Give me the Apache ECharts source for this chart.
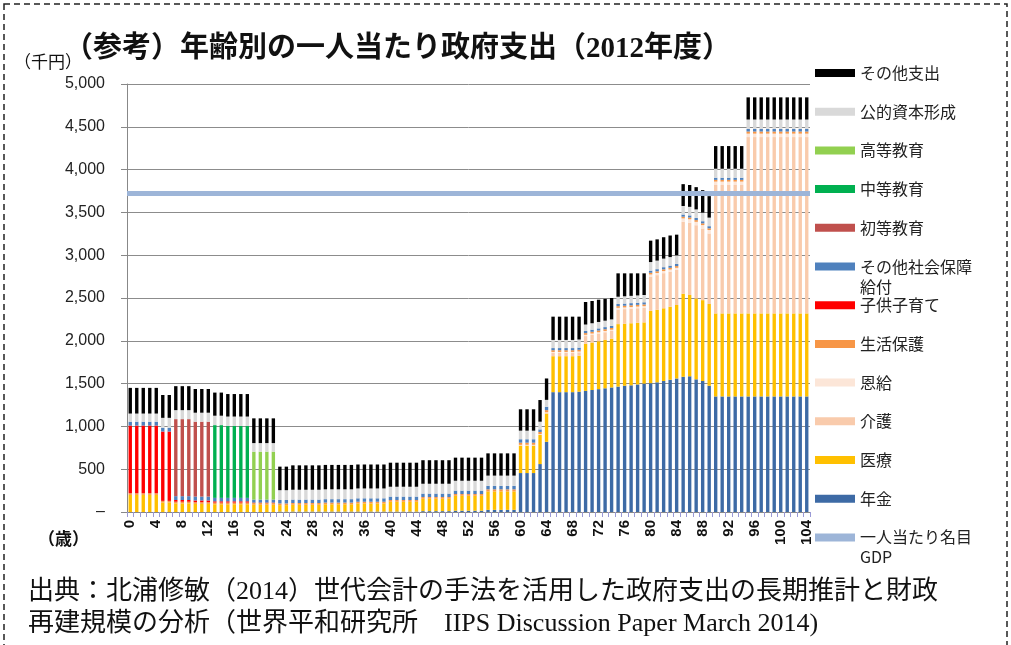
<!DOCTYPE html>
<html>
<head>
<meta charset="utf-8">
<script src="https://cdn.jsdelivr.net/npm/echarts@6/dist/echarts.min.js"></script>
<style>
  html, body { margin: 0; padding: 0; background: #fff; }
  #chart { width: 1011px; height: 645px; }
</style>
</head>
<body>
<div id="chart"></div>
<script>
// 年齢 (x軸カテゴリ)
const ages = [
  '0','1','2','3','4','5','6','7','8','9',
  '10','11','12','13','14','15','16','17','18','19',
  '20','21','22','23','24','25','26','27','28','29',
  '30','31','32','33','34','35','36','37','38','39',
  '40','41','42','43','44','45','46','47','48','49',
  '50','51','52','53','54','55','56','57','58','59',
  '60','61','62','63','64','65','66','67','68','69',
  '70','71','72','73','74','75','76','77','78','79',
  '80','81','82','83','84','85','86','87','88','89',
  '90','91','92','93','94','95','96','97','98','99',
  '100','101','102','103','104'
]

// y軸目盛
const yTicks = [0, 500, 1000, 1500, 2000, 2500, 3000, 3500, 4000, 4500, 5000]

// 一人当たり名目GDP (千円)
const gdpPerCapita = 3720

// 各項目 (千円) 年齢0〜104
const pension = [
  0,0,0,0,0,0,0,0,0,0,
  0,0,0,0,0,0,0,0,0,0,
  0,0,0,5,5,5,5,5,5,5,
  5,5,5,5,5,5,5,5,5,5,
  5,5,5,5,5,10,10,10,10,10,
  15,15,15,15,15,25,25,25,25,25,
  455,455,455,560,820,1400,1400,1400,1400,1405,
  1415,1425,1435,1445,1455,1465,1475,1480,1490,1500,
  1505,1515,1530,1545,1560,1580,1585,1550,1530,1475,
  1350,1350,1350,1350,1350,1350,1350,1350,1350,1350,
  1350,1350,1350,1350,1350
]
const medical = [
  200,200,200,200,200,110,110,100,100,100,
  95,95,95,90,90,90,90,90,90,85,
  85,85,85,75,75,80,80,80,80,80,
  85,85,85,85,85,95,95,95,95,95,
  115,115,115,115,115,145,145,145,145,145,
  175,175,175,175,175,215,215,215,215,215,
  320,320,320,340,330,420,420,420,420,420,
  550,555,560,565,570,730,725,725,720,715,
  845,847,850,853,858,970,950,945,945,955,
  970,970,970,970,970,970,970,970,970,970,
  970,970,970,970,970
]
const care = [
  0,0,0,0,0,0,0,0,0,0,
  0,0,0,0,0,0,0,0,0,0,
  0,0,0,0,0,0,0,0,0,0,
  0,0,0,0,0,0,0,0,0,0,
  0,0,0,0,0,0,0,0,0,0,
  0,0,0,0,0,0,0,0,0,0,
  5,5,5,5,10,40,40,40,40,40,
  90,90,90,90,90,170,170,170,170,170,
  400,405,410,410,410,840,845,855,837,824,
  1500,1500,1500,1500,1500,2060,2060,2060,2060,2060,
  2060,2060,2060,2060,2060
]
const onkyu = [
  0,0,0,0,0,0,0,0,0,0,
  0,0,0,0,0,0,0,0,0,0,
  0,0,0,0,0,0,0,0,0,0,
  0,0,0,0,0,0,0,0,0,0,
  0,0,0,0,0,0,0,0,0,0,
  0,0,0,0,0,0,0,0,0,0,
  5,5,5,5,5,10,10,10,10,10,
  15,15,15,15,15,20,20,20,20,20,
  25,25,25,25,25,40,40,40,40,40,
  40,40,40,40,40,40,40,40,40,40,
  40,40,40,40,40
]
const welfare = [
  20,20,20,20,20,20,20,20,20,20,
  20,20,20,20,20,20,20,20,20,20,
  20,20,20,20,20,20,20,20,20,20,
  20,20,20,20,20,20,20,20,20,20,
  20,20,20,20,20,20,20,20,20,20,
  20,20,20,20,20,25,25,25,25,25,
  25,25,25,25,25,20,20,20,20,20,
  20,20,20,20,20,20,20,20,20,20,
  20,20,20,20,20,20,20,20,20,20,
  20,20,20,20,20,25,25,25,25,25,
  25,25,25,25,25
]
const childcare = [
  790,790,790,790,790,810,810,20,20,20,
  20,20,20,15,15,15,15,15,15,5,
  5,5,5,0,0,0,0,0,0,0,
  0,0,0,0,0,0,0,0,0,0,
  0,0,0,0,0,0,0,0,0,0,
  0,0,0,0,0,0,0,0,0,0,
  0,0,0,0,0,0,0,0,0,0,
  0,0,0,0,0,0,0,0,0,0,
  0,0,0,0,0,0,0,0,0,0,
  0,0,0,0,0,0,0,0,0,0,
  0,0,0,0,0
]
const otherSocial = [
  45,45,45,45,45,45,45,45,45,45,
  45,45,45,40,40,40,40,40,40,35,
  35,35,35,40,40,40,40,40,40,40,
  40,40,40,40,40,40,40,40,40,40,
  40,40,40,40,40,40,40,40,40,40,
  40,40,40,40,40,40,40,40,40,40,
  40,40,40,30,40,25,25,25,25,25,
  25,25,25,25,25,25,25,25,25,25,
  25,25,25,25,25,25,25,25,25,25,
  25,25,25,25,25,30,30,30,30,30,
  30,30,30,30,30
]
const primaryEdu = [
  0,0,0,0,0,0,0,900,900,900,
  875,875,875,0,0,0,0,0,0,0,
  0,0,0,0,0,0,0,0,0,0,
  0,0,0,0,0,0,0,0,0,0,
  0,0,0,0,0,0,0,0,0,0,
  0,0,0,0,0,0,0,0,0,0,
  0,0,0,0,0,0,0,0,0,0,
  0,0,0,0,0,0,0,0,0,0,
  0,0,0,0,0,0,0,0,0,0,
  0,0,0,0,0,0,0,0,0,0,
  0,0,0,0,0
]
const secondaryEdu = [
  0,0,0,0,0,0,0,0,0,0,
  0,0,0,850,850,840,840,840,840,0,
  0,0,0,0,0,0,0,0,0,0,
  0,0,0,0,0,0,0,0,0,0,
  0,0,0,0,0,0,0,0,0,0,
  0,0,0,0,0,0,0,0,0,0,
  0,0,0,0,0,0,0,0,0,0,
  0,0,0,0,0,0,0,0,0,0,
  0,0,0,0,0,0,0,0,0,0,
  0,0,0,0,0,0,0,0,0,0,
  0,0,0,0,0
]
const higherEdu = [
  0,0,0,0,0,0,0,0,0,0,
  0,0,0,0,0,0,0,0,0,560,
  560,560,560,0,0,0,0,0,0,0,
  0,0,0,0,0,0,0,0,0,0,
  0,0,0,0,0,0,0,0,0,0,
  0,0,0,0,0,0,0,0,0,0,
  0,0,0,0,0,0,0,0,0,0,
  0,0,0,0,0,0,0,0,0,0,
  0,0,0,0,0,0,0,0,0,0,
  0,0,0,0,0,0,0,0,0,0,
  0,0,0,0,0
]
const publicCapital = [
  95,95,95,95,95,115,115,105,105,105,
  105,105,105,110,110,110,110,110,110,100,
  100,100,100,115,115,115,115,115,115,115,
  115,115,115,115,115,115,115,115,115,115,
  115,115,115,115,115,115,115,115,115,115,
  115,115,115,115,115,120,120,120,120,120,
  100,100,100,90,80,95,95,95,95,95,
  75,75,75,75,75,85,85,85,85,85,
  100,100,100,100,100,100,100,100,100,100,
  105,105,105,105,105,110,110,110,110,110,
  110,110,110,110,110
]
const otherExpense = [
  300,300,300,300,300,267,267,280,280,280,
  277,277,277,270,270,263,263,263,263,289,
  289,289,289,275,275,285,285,285,285,285,
  285,285,285,285,285,280,280,280,280,280,
  281,281,281,281,281,275,275,275,275,275,
  270,270,270,270,270,260,260,260,260,260,
  250,250,250,253,250,272,272,272,272,267,
  263,260,260,255,250,273,268,263,258,253,
  250,248,250,252,242,255,255,260,263,251,
  265,265,265,265,265,259,259,259,259,259,
  259,259,259,259,259
]

// 積み上げ順 (下から)
const stackSeries = [
  { name: '年金', data: pension, color: '#3d6aa5' },
  { name: '医療', data: medical, color: '#ffc000' },
  { name: '介護', data: care, color: '#f9cbac' },
  { name: '恩給', data: onkyu, color: '#fce6d8' },
  { name: '生活保護', data: welfare, color: '#f79646' },
  { name: '子供子育て', data: childcare, color: '#ff0000' },
  { name: 'その他社会保障給付', data: otherSocial, color: '#4f81bd' },
  { name: '初等教育', data: primaryEdu, color: '#c0504d' },
  { name: '中等教育', data: secondaryEdu, color: '#00b050' },
  { name: '高等教育', data: higherEdu, color: '#92d050' },
  { name: '公的資本形成', data: publicCapital, color: '#d9d9d9' },
  { name: 'その他支出', data: otherExpense, color: '#000000' }
]
const gdpName = '一人当たり名目GDP'

// 凡例は上から
const legendOrder = stackSeries.map(s => s.name).reverse().concat([gdpName])
// 2行になる凡例 (1行目を色見本の高さに合わせる)
const legendLines = {
  'その他社会保障給付': 'その他社会保障\n給付',
  '一人当たり名目GDP': '一人当たり名目\nGDP'
}

const cjk = '"Noto Sans CJK JP", sans-serif'
const serifCjk = '"Liberation Serif", "Noto Sans CJK JP", serif'

const chart = echarts.init(document.getElementById('chart'))

const series = stackSeries.map(s => ({
  name: s.name,
  type: 'bar',
  stack: 'total',
  barWidth: '52%',
  data: s.data,
  itemStyle: { color: s.color },
  emphasis: { disabled: true }
}))
series.push({
  name: gdpName,
  type: 'line',
  data: [],
  itemStyle: { color: '#9db5d8' },
  lineStyle: { color: '#9db5d8', width: 5 },
  z: 5,
  markLine: {
    silent: true,
    symbol: ['none', 'none'],
    label: { show: false },
    lineStyle: { color: '#9db5d8', width: 5, type: 'solid' },
    data: [{ yAxis: gdpPerCapita }]
  }
})

const option = {
  animation: false,
  backgroundColor: '#fff',
  grid: { left: 127, right: 201, top: 84, bottom: 133 },
  legend: {
    data: legendOrder,
    orient: 'vertical',
    left: 815,
    top: 43,
    padding: 0,
    itemWidth: 40,
    itemHeight: 8,
    itemGap: -21.3,
    icon: 'rect',
    selectedMode: false,
    formatter: name => ' \n' + (legendLines[name] || name + '\n '),
    textStyle: {
      fontFamily: cjk,
      fontSize: 16,
      color: '#222',
      lineHeight: 20
    }
  },
  xAxis: {
    type: 'category',
    data: ages,
    axisLine: { lineStyle: { color: '#888', width: 1 } },
    axisTick: { show: true, interval: 0, length: 5, lineStyle: { color: '#9a9ad6' } },
    axisLabel: {
      interval: 3,
      rotate: 90,
      margin: 8,
      fontSize: 15,
      fontWeight: 'bold',
      fontFamily: 'Liberation Sans',
      color: '#111'
    }
  },
  yAxis: {
    type: 'value',
    min: yTicks[0],
    max: yTicks[yTicks.length - 1],
    interval: 500,
    axisLine: { show: true, lineStyle: { color: '#888' } },
    axisTick: { show: true, length: 6, lineStyle: { color: '#888' } },
    splitLine: { lineStyle: { color: '#8c8c8c', width: 1 } },
    axisLabel: {
      margin: 22,
      fontSize: 16,
      fontFamily: 'Liberation Sans',
      color: '#222',
      formatter: v => (v === 0 ? '–' : String(v).replace(/\B(?=(\d{3})+(?!\d))/g, ','))
    }
  },
  graphic: [
    {
      type: 'rect',
      shape: { x: 4, y: 4, width: 1003, height: 720 },
      style: { fill: 'none', stroke: '#222', lineWidth: 1.5, lineDash: [6, 4] },
      silent: true
    },
    {
      type: 'text',
      left: 64,
      top: 35,
      style: { text: '（参考）年齢別の一人当たり政府支出（2012年度）', font: 'bold 29px ' + serifCjk, fill: '#111' }
    },
    {
      type: 'text',
      left: 14,
      top: 53,
      style: { text: '（千円）', font: '17px ' + cjk, fill: '#111' }
    },
    {
      type: 'text',
      left: 38,
      top: 530,
      style: { text: '（歳）', font: 'bold 17px ' + cjk, fill: '#111' }
    },
    {
      type: 'text',
      left: 28,
      top: 579,
      style: { text: '出典：北浦修敏（2014）世代会計の手法を活用した政府支出の長期推計と財政', font: '26px ' + serifCjk, fill: '#111' }
    },
    {
      type: 'text',
      left: 28,
      top: 611,
      style: { text: '再建規模の分析（世界平和研究所　IIPS Discussion Paper March 2014)', font: '26px ' + serifCjk, fill: '#111' }
    }
  ],
  series: series
}

chart.setOption(option)
</script>
</body>
</html>
